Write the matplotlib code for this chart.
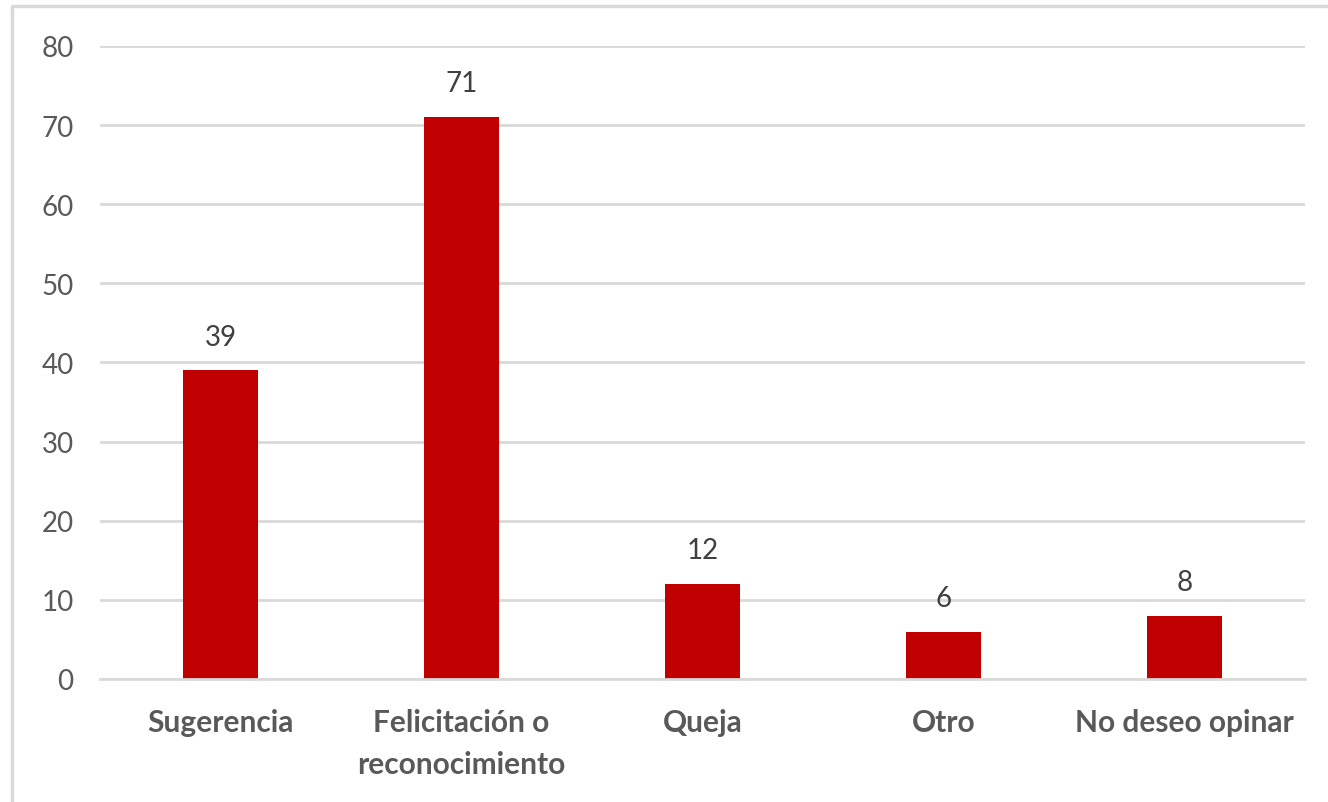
import matplotlib.pyplot as plt
from matplotlib.lines import Line2D

# Survey answers by category
categories = ["Sugerencia", "Felicitación o\nreconocimiento", "Queja", "Otro", "No deseo opinar"]
counts = [39, 71, 12, 6, 8]
y_ticks = [0, 10, 20, 30, 40, 50, 60, 70, 80]

plt.rcParams['font.family'] = ['Lato', 'DejaVu Sans']

fig = plt.figure(figsize=(13.28, 8.03), dpi=100)
ax = fig.add_axes([0.0753, 0.1532, 0.9074, 0.7883])

x = range(len(categories))
bars = ax.bar(x, counts, width=0.31, color="#C00000", zorder=3)

for rect, val in zip(bars, counts):
    ax.annotate(str(val), (rect.get_x() + rect.get_width() / 2, val),
                xytext=(0, 15), textcoords="offset points",
                ha="center", va="bottom", fontsize=20, color="#404040")

ax.set_xlim(-0.5, len(categories) - 0.5)
ax.set_ylim(0, 80)
ax.set_yticks(y_ticks)
ax.set_xticks(list(x))
ax.set_xticklabels(categories, fontsize=21.5, fontweight="bold", color="#595959",
                   linespacing=1.6)
ax.tick_params(axis="y", labelsize=20, labelcolor="#595959", length=0, pad=19)
ax.tick_params(axis="x", length=0, pad=21)

ax.grid(axis="y", color="#d9d9d9", linewidth=2, zorder=0)
for s in ["top", "right", "left"]:
    ax.spines[s].set_visible(False)
ax.spines["bottom"].set_color("#d9d9d9")
ax.spines["bottom"].set_linewidth(2)
ax.spines["bottom"].set_zorder(4)

# outer frame (left and top edges)
fig.add_artist(Line2D([0.0087, 0.0087, 1.0], [0.0, 0.9907, 0.9907],
                      color="#d9d9d9", linewidth=2.5, transform=fig.transFigure))

fig.savefig("out.png", dpi=100)
